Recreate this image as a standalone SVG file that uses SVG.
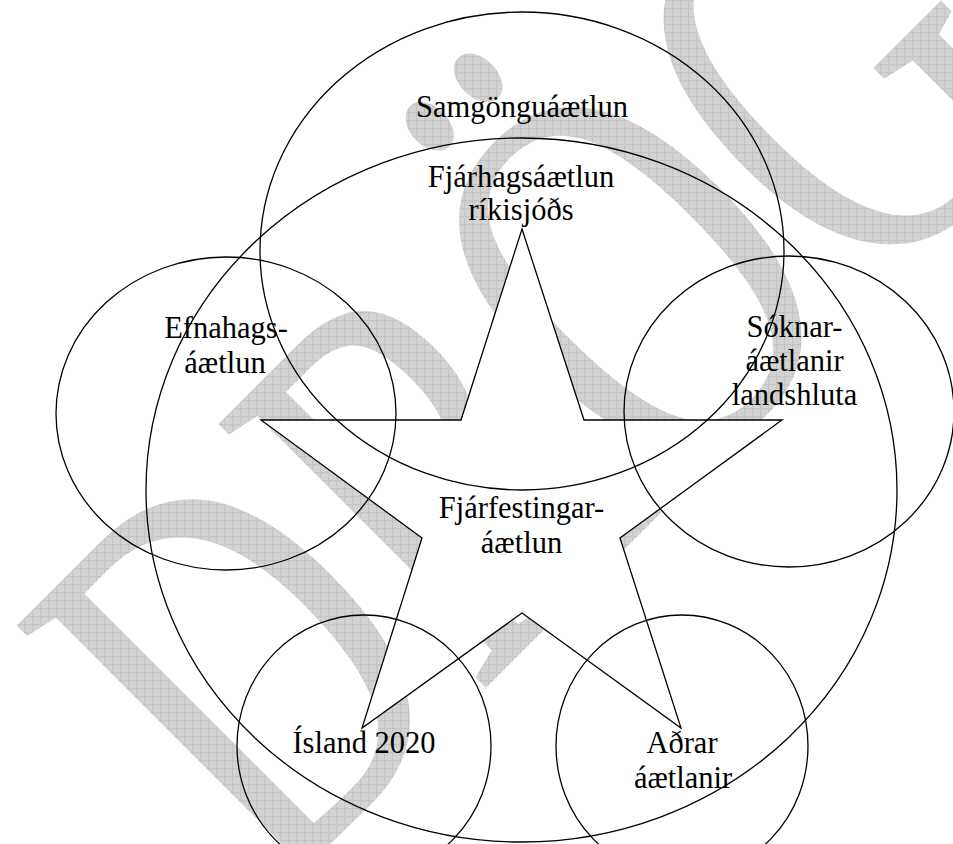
<svg xmlns="http://www.w3.org/2000/svg" width="953" height="844" viewBox="0 0 953 844">
<defs>
<style>
.ell{fill:none;stroke:#000;stroke-width:1.3}
.star{fill:#fff;stroke:#000;stroke-width:1.3;stroke-linejoin:miter}
.lbl{font-size:30.5px;fill:#000;text-anchor:middle}
</style>
<pattern id="grid" patternUnits="userSpaceOnUse" width="8" height="8" patternTransform="scale(0.25316,0.17422) rotate(45) translate(-274.4,-899.4)">
<rect width="8" height="8" fill="#d3d3d3"/>
<path d="M0 0.5H8M0.5 0V8" stroke="#c3c3c3" stroke-width="1" fill="none"/>
</pattern>
</defs>
<rect width="953" height="844" fill="#fff"/>
<g id="watermark">
<text font-family="Liberation Serif" font-size="100" fill="url(#grid)" transform="translate(274.4,899.4) rotate(-45) scale(3.95,5.74)">DRÖG</text>
</g>
<g id="star-node">
<polygon class="star" points="522,229 584,420 782,420 620,538 681,728 522,613 362,728 422,538 261,420 461,420"/>
</g>
<g font-family="Liberation Serif">
<g id="samgongu">
<ellipse class="ell" cx="522" cy="251" rx="262" ry="239"/>
<text class="lbl" x="522" y="117">Samgönguáætlun</text>
</g>
<g id="fjarhags">
<ellipse class="ell" cx="521.5" cy="490" rx="375.5" ry="352"/>
<text class="lbl" x="521" y="187">Fjárhagsáætlun</text>
<text class="lbl" x="521" y="220">ríkisjóðs</text>
</g>
<g id="efnahags">
<ellipse class="ell" cx="226" cy="413.5" rx="170" ry="156.5"/>
<text class="lbl" x="226" y="338">Efnahags-</text>
<text class="lbl" x="225" y="373">áætlun</text>
</g>
<g id="soknar">
<ellipse class="ell" cx="789" cy="411.5" rx="165" ry="155.5"/>
<text class="lbl" x="794.5" y="337">Sóknar-</text>
<text class="lbl" x="794.5" y="371">áætlanir</text>
<text class="lbl" x="794.5" y="405">landshluta</text>
</g>
<g id="fjarfestingar">
<text class="lbl" x="521.5" y="518">Fjárfestingar-</text>
<text class="lbl" x="521.5" y="553">áætlun</text>
</g>
<g id="island">
<ellipse class="ell" cx="364" cy="746" rx="127" ry="131"/>
<text class="lbl" x="364" y="753">Ísland 2020</text>
</g>
<g id="adrar">
<ellipse class="ell" cx="682" cy="746" rx="126" ry="131"/>
<text class="lbl" x="682" y="753">Aðrar</text>
<text class="lbl" x="683" y="788">áætlanir</text>
</g>
</g>
</svg>
